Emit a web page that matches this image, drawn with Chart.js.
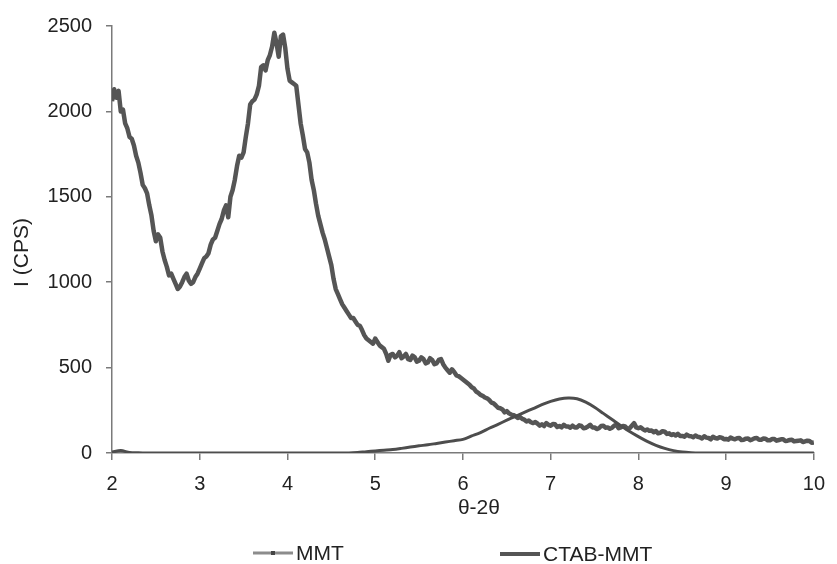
<!DOCTYPE html>
<html>
<head>
<meta charset="utf-8">
<script src="https://cdn.jsdelivr.net/npm/chart.js@4/dist/chart.umd.min.js"></script>
<style>
html,body{margin:0;padding:0;background:#fff;}
#c{display:block;}
</style>
</head>
<body>
<canvas id="c" width="837" height="564"></canvas>
<script>
// ---- data ----
const seriesNames = ['MMT', 'CTAB-MMT'];
const xTitle = 'θ-2θ';
const yTitle = 'I (CPS)';
const xTicks = [2, 3, 4, 5, 6, 7, 8, 9, 10];
const yTicks = [0, 500, 1000, 1500, 2000, 2500];

// CTAB-MMT sampled every 0.025 from 2.000 to 10.000 (one row = 0.5 units)
const ctabStart = 2.0, ctabStep = 0.025;
const ctabValues = [
 2060,2130,2080,2120,2000,2010,1930,1900,1850,1840,1800,1740,1700,1640,1570,1550,1520,1450,1390,1300,
 1240,1280,1260,1180,1130,1090,1040,1050,1020,990,960,975,1000,1030,1050,1010,990,1000,1030,1050,
 1080,1110,1140,1150,1170,1220,1250,1260,1300,1340,1370,1420,1450,1380,1500,1540,1600,1680,1740,1730,
 1760,1850,1930,2040,2060,2070,2100,2150,2260,2270,2240,2300,2330,2380,2460,2400,2320,2440,2450,2370,
 2250,2180,2170,2160,2150,2040,1930,1860,1780,1760,1700,1600,1540,1460,1390,1340,1290,1250,1200,1150,
 1100,1020,960,930,900,870,850,830,810,790,790,770,750,745,720,690,670,660,650,640,
 670,650,630,620,610,580,540,575,580,560,570,590,555,565,580,550,545,570,560,535,
 540,560,550,525,530,555,545,520,525,545,550,520,500,485,470,490,475,455,450,440,
 430,420,410,400,385,378,360,352,340,335,325,320,310,295,290,278,265,262,255,238,
 245,232,225,222,215,205,210,200,195,185,190,180,175,182,172,160,168,158,175,165,
 160,170,168,152,158,150,165,155,155,148,160,150,150,162,158,145,148,155,165,150,
 150,140,145,158,160,148,150,142,148,160,165,145,150,158,155,142,145,160,175,150,
 145,150,140,132,138,130,132,122,128,115,118,128,125,112,115,105,110,102,112,100,
 100,95,108,100,98,92,102,95,92,85,98,90,88,80,95,88,85,92,90,80,
 82,78,90,84,80,86,88,76,78,84,85,75,80,86,88,78,78,85,84,74,
 75,82,82,72,76,80,80,70,72,76,78,68,70,72,74,64,68,72,70,60,
 62
];

// MMT sampled every 0.1 from 2.0 to 10.0
const mmtStart = 2.0, mmtStep = 0.1;
const mmtValues = [
 5,14,3,1,0,0,0,0,0,0,
 0,0,0,0,0,0,0,0,0,0,
 0,0,0,0,0,0,0,0,3,8,
 12,16,20,27,35,42,48,56,64,72,
 80,100,120,145,168,192,215,238,260,283,
 302,316,322,318,298,268,232,196,160,126,
 96,68,45,27,14,6,2,0,0,0,
 0,0,0,0,0,0,0,0,0,0,
 0
];

const ctabPoints = ctabValues.map((v, i) => ({x: +(ctabStart + i * ctabStep).toFixed(3), y: v}));
const mmtPoints = mmtValues.map((v, i) => ({x: +(mmtStart + i * mmtStep).toFixed(2), y: v}));

const FONT = '"Liberation Sans", Arial, Helvetica, sans-serif';
const TEXT = '#222';
const AXIS = '#7a7a7a';

const overlay = {
  id: 'overlay',
  afterDraw(chart) {
    const ctx = chart.ctx, a = chart.chartArea;
    ctx.save();
    ctx.fillStyle = TEXT;
    ctx.font = '21px ' + FONT;
    ctx.textBaseline = 'middle';
    ctx.textAlign = 'center';
    // x title
    ctx.fillText(xTitle, (a.left + a.right) / 2 + 16, a.bottom + 55);
    // y title
    ctx.save();
    ctx.translate(22, (a.top + a.bottom) / 2 + 13);
    ctx.rotate(-Math.PI / 2);
    ctx.fillText(yTitle, 0, 0);
    ctx.restore();
    // legend
    const ly = a.bottom + 100;
    ctx.textAlign = 'left';
    // MMT
    ctx.strokeStyle = '#8c8c8c';
    ctx.lineWidth = 3;
    ctx.beginPath(); ctx.moveTo(253, ly); ctx.lineTo(293, ly); ctx.stroke();
    ctx.fillStyle = '#444';
    ctx.fillRect(271, ly - 2, 4, 4);
    ctx.fillStyle = TEXT;
    ctx.fillText(seriesNames[0], 296, ly + 1);
    // CTAB-MMT
    ctx.strokeStyle = '#555';
    ctx.lineWidth = 4;
    ctx.beginPath(); ctx.moveTo(500, ly + 1); ctx.lineTo(540, ly + 1); ctx.stroke();
    ctx.fillText(seriesNames[1], 543, ly + 2);
    ctx.restore();
  }
};

new Chart(document.getElementById('c'), {
  type: 'line',
  data: {
    datasets: [
      {label: seriesNames[0], data: mmtPoints, borderColor: '#4d4d4d', borderWidth: 3,
       pointRadius: 0, tension: 0.3, fill: false, order: 1},
      {label: seriesNames[1], data: ctabPoints, borderColor: '#555', borderWidth: 4.5,
       pointRadius: 0, tension: 0, fill: false, borderJoinStyle: 'round', order: 2}
    ]
  },
  options: {
    responsive: false,
    animation: false,
    layout: {padding: {left: 0, right: 13, top: 21, bottom: 39}},
    plugins: {legend: {display: false}, tooltip: {enabled: false}},
    scales: {
      x: {
        type: 'linear', min: 2, max: 10,
        afterBuildTicks: s => { s.ticks = xTicks.map(v => ({value: v})); },
        ticks: {color: TEXT, font: {size: 20, family: FONT}, padding: 12, maxRotation: 0,
                callback: v => String(v)},
        grid: {drawOnChartArea: false, drawTicks: true, tickLength: 7, color: AXIS, lineWidth: 1.5},
        border: {color: AXIS, width: 1.5},
        afterFit: s => { s.height = 72; }
      },
      y: {
        min: 0, max: 2500,
        afterBuildTicks: s => { s.ticks = yTicks.map(v => ({value: v})); },
        ticks: {color: TEXT, font: {size: 20, family: FONT}, padding: 14,
                callback: v => String(v)},
        grid: {drawOnChartArea: false, drawTicks: true, tickLength: 6, color: AXIS, lineWidth: 1.5},
        border: {color: AXIS, width: 1.5},
        afterFit: s => { s.width = 112; }
      }
    }
  },
  plugins: [overlay]
});
</script>
</body>
</html>
